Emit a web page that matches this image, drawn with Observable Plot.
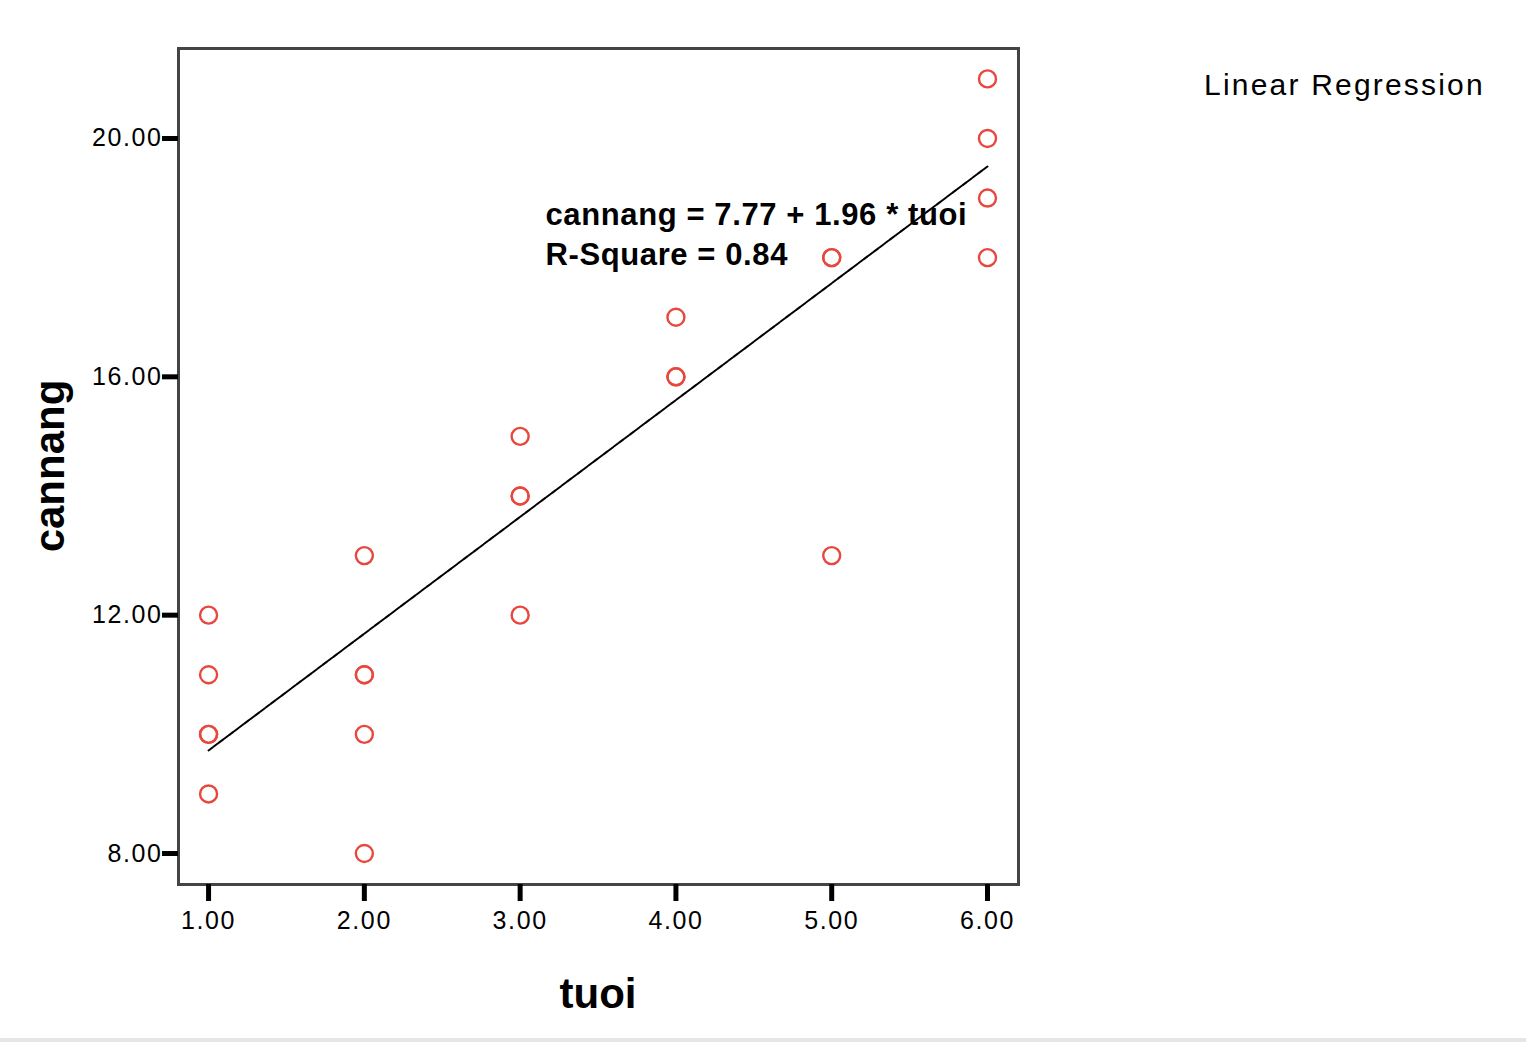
<!DOCTYPE html>
<html>
<head>
<meta charset="utf-8">
<script src="https://cdn.jsdelivr.net/npm/d3@7"></script>
<script src="https://cdn.jsdelivr.net/npm/@observablehq/plot@0.6"></script>
<style>
  html, body { margin: 0; padding: 0; background: #fff; }
  #chart svg { display: block; }
  #bar { height: 4px; background: #e6e6e6; }
  #chart svg [aria-label*="axis"] path, #chart svg [aria-label*="axis"] line {
    stroke-width: 5px !important; stroke: #000 !important;
  }
</style>
</head>
<body>
<div id="chart"></div>
<div id="bar"></div>
<script>
// Data
const tuoi    = [1, 1, 1, 1, 1,  2, 2, 2, 2, 2,  3, 3, 3, 3,  4, 4, 4,  5, 5, 5,  6, 6, 6, 6];
const cannang = [12, 11, 10, 10, 9,  13, 11, 11, 10, 8,  15, 14, 14, 12,  17, 16, 16,  18, 18, 13,  21, 20, 19, 18];
const xTicks = [1, 2, 3, 4, 5, 6];
const yTicks = [8, 12, 16, 20];
const intercept = 7.77;
const slope = 1.96;
const rSquare = 0.84;
const xLabel = "tuoi";
const yLabel = "cannang";
const legendLabel = "Linear Regression";

const points = tuoi.map((x, i) => ({x, y: cannang[i]}));
const fitX = [1, 6];
const fit = fitX.map(x => ({x, y: intercept + slope * x}));
const eqText = `${yLabel} = ${intercept.toFixed(2)} + ${slope.toFixed(2)} * ${xLabel}\nR-Square = ${rSquare.toFixed(2)}`;

const font = "'Liberation Sans', Arial, sans-serif";

const plot = Plot.plot({
  width: 1526,
  height: 1038,
  marginLeft: 178,
  marginRight: 508,
  marginTop: 48,
  marginBottom: 154,
  style: {fontFamily: font, background: "#fff", color: "#000"},
  x: {domain: [0.807, 6.199]},
  y: {domain: [7.48, 21.51]},
  marks: [
    Plot.line(fit, {x: "x", y: "y", stroke: "#000", strokeWidth: 2, strokeDasharray: "5,1.5"}),
    Plot.dot(points, {x: "x", y: "y", r: 8.5, stroke: "#e8473d", strokeWidth: 2.4, fill: "none"}),
    Plot.text([eqText], {
      x: 3.163, y: 19.03, text: d => d, textAnchor: "start", lineAnchor: "top",
      fontSize: 31, fontWeight: "bold", lineHeight: 1.3, fill: "#000"
    }),
    Plot.frame({stroke: "#444", strokeWidth: 3}),
    Plot.axisX({ticks: xTicks, tickFormat: d => d.toFixed(2), tickSize: 17, tickPadding: 10,
      stroke: "#000", strokeWidth: 5, fontSize: 25, label: null}),
    Plot.axisY({ticks: yTicks, tickFormat: d => d.toFixed(2), tickSize: 16, tickPadding: 0,
      stroke: "#000", strokeWidth: 5, fontSize: 25, label: null})
  ]
});

document.getElementById("chart").appendChild(plot);

const svg = d3.select(plot);
// letter spacing on tick labels
svg.selectAll('[aria-label*="axis"] text').style("letter-spacing", "1.6px");
svg.selectAll('g[aria-label="text"] text').style("letter-spacing", "0.6px");

// Axis titles
svg.append("text")
  .attr("x", 598).attr("y", 1008)
  .attr("text-anchor", "middle")
  .style("font-family", font).style("font-weight", "bold").style("font-size", "42px")
  .text(xLabel);
svg.append("text")
  .attr("transform", "translate(64,466) rotate(-90)")
  .attr("text-anchor", "middle")
  .style("font-family", font).style("font-weight", "bold").style("font-size", "42px")
  .text(yLabel);
// Legend title
svg.append("text")
  .attr("x", 1204).attr("y", 95)
  .attr("text-anchor", "start")
  .style("font-family", font).style("font-size", "30px").style("letter-spacing", "2.2px")
  .text(legendLabel);
</script>
</body>
</html>
